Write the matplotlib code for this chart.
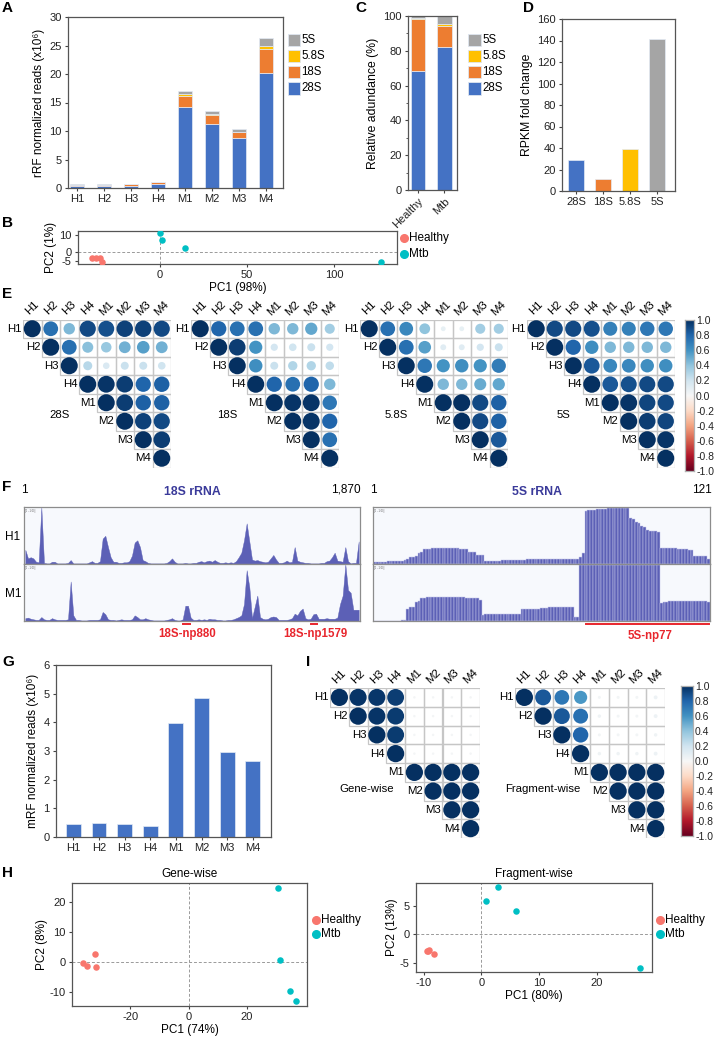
import numpy as np
import matplotlib
matplotlib.use('Agg')
import matplotlib.pyplot as plt
from matplotlib.patches import Rectangle, Circle
from matplotlib.lines import Line2D
from matplotlib.colors import Normalize
from matplotlib.ticker import MultipleLocator

plt.rcParams['font.family'] = ['Liberation Sans', 'DejaVu Sans']
plt.rcParams['font.size'] = 8
plt.rcParams['axes.unicode_minus'] = False
plt.rcParams['axes.edgecolor'] = '#555555'
plt.rcParams['axes.linewidth'] = 0.9
for a in ('xtick', 'ytick'):
    plt.rcParams[a + '.major.size'] = 2.5
    plt.rcParams[a + '.minor.size'] = 1.8
    plt.rcParams[a + '.major.width'] = 0.8
    plt.rcParams[a + '.major.pad'] = 2
    plt.rcParams[a + '.color'] = '#444444'
    plt.rcParams[a + '.labelcolor'] = '#222222'
    plt.rcParams[a + '.labelsize'] = 8

# ---------------- data ----------------
samples = ['H1', 'H2', 'H3', 'H4', 'M1', 'M2', 'M3', 'M4']
rrna = ['28S', '18S', '5.8S', '5S']
rrna_colors = ['#4472C4', '#ED7D31', '#FFC000', '#A5A5A5']

# A: rRF normalized reads (x10^6)
reads_28S = [0.40, 0.40, 0.42, 0.75, 14.2, 11.2, 8.8, 20.2]
reads_18S = [0.18, 0.18, 0.20, 0.22, 2.0, 1.6, 1.0, 4.2]
reads_58S = [0.02, 0.02, 0.02, 0.02, 0.3, 0.25, 0.1, 0.45]
reads_5S = [0.03, 0.03, 0.03, 0.03, 0.5, 0.45, 0.4, 1.55]

# C: relative abundance (%)
groups = ['Healthy', 'Mtb']
abund_28S = [68.5, 82.3]
abund_18S = [30.0, 12.1]
abund_58S = [0.6, 1.0]
abund_5S = [0.9, 4.6]

# D: RPKM fold change
fold_change = [29, 11, 39.5, 141]

# B: PCA of rRF
pca_b_healthy_x = [-38.7, -36.4, -34.5, -33.1]
pca_b_healthy_y = [-3.4, -3.4, -3.4, -5.7]
pca_b_mtb_x = [0.0, 1.1, 14.4, 127.0]
pca_b_mtb_y = [10.9, 7.0, 2.3, -5.4]

# E: correlation matrices (upper triangle, row by row from the diagonal)
corr_28S = [[1.00, 0.75, 0.45, 0.90, 0.88, 0.93, 0.93, 0.90],
            [1.00, 0.75, 0.42, 0.38, 0.48, 0.55, 0.48],
            [1.00, 0.28, 0.15, 0.22, 0.22, 0.20],
            [1.00, 0.98, 0.95, 0.80, 0.82],
            [1.00, 0.95, 0.82, 0.82],
            [1.00, 0.93, 0.90],
            [1.00, 0.95],
            [1.00]]
corr_18S = [[1.00, 0.80, 0.75, 0.75, 0.45, 0.45, 0.52, 0.35],
            [1.00, 0.95, 0.60, 0.18, 0.20, 0.22, 0.18],
            [1.00, 0.62, 0.22, 0.30, 0.30, 0.25],
            [1.00, 0.80, 0.75, 0.80, 0.45],
            [1.00, 0.98, 0.98, 0.72],
            [1.00, 0.98, 0.80],
            [1.00, 0.75],
            [1.00]]
corr_58S = [[1.00, 0.75, 0.65, 0.40, 0.08, 0.08, 0.35, 0.35],
            [1.00, 0.75, 0.55, 0.12, 0.12, 0.18, 0.22],
            [1.00, 0.72, 0.60, 0.62, 0.60, 0.70],
            [1.00, 0.45, 0.45, 0.50, 0.52],
            [1.00, 1.00, 0.90, 0.82],
            [1.00, 0.90, 0.82],
            [1.00, 0.85],
            [1.00]]
corr_5S = [[1.00, 0.90, 0.90, 0.88, 0.68, 0.68, 0.72, 0.72],
           [1.00, 0.80, 0.62, 0.45, 0.45, 0.45, 0.45],
           [1.00, 0.85, 0.65, 0.65, 0.62, 0.62],
           [1.00, 0.85, 0.88, 0.90, 0.90],
           [1.00, 0.98, 0.92, 0.90],
           [1.00, 0.95, 0.92],
           [1.00, 0.98],
           [1.00]]

# F: coverage tracks (relative depth)
cov_18S_H1 = [0.25, 0.10, 0.12, 0.10, 0.04, 0.03, 1.00, 0.02, 0.01, 0.01,
              0.04, 0.04, 0.01, 0.01, 0.01, 0.01, 0.02, 0.07, 0.01, 0.01,
              0.01, 0.01, 0.01, 0.01, 0.03, 0.05, 0.02, 0.02, 0.05, 0.45,
              0.50, 0.30, 0.12, 0.04, 0.04, 0.02, 0.02, 0.03, 0.03, 0.05,
              0.15, 0.38, 0.42, 0.30, 0.07, 0.05, 0.02, 0.01, 0.01, 0.01,
              0.01, 0.01, 0.01, 0.02, 0.05, 0.10, 0.04, 0.01, 0.01, 0.01,
              0.02, 0.01, 0.01, 0.02, 0.02, 0.04, 0.05, 0.03, 0.05, 0.06,
              0.04, 0.07, 0.04, 0.02, 0.02, 0.03, 0.02, 0.03, 0.02, 0.05,
              0.12, 0.20, 0.42, 0.72, 0.40, 0.08, 0.06, 0.07, 0.05, 0.04,
              0.03, 0.04, 0.10, 0.16, 0.08, 0.02, 0.02, 0.03, 0.06, 0.03,
              0.04, 0.30, 0.06, 0.04, 0.03, 0.02, 0.02, 0.01, 0.01, 0.01,
              0.01, 0.02, 0.02, 0.05, 0.06, 0.12, 0.20, 0.06, 0.05, 0.04,
              0.30, 0.05, 0.01, 0.02, 0.02, 0.40]
cov_18S_M1 = [0.05, 0.06, 0.04, 0.03, 0.02, 0.02, 0.07, 0.03, 0.02, 0.02,
              0.05, 0.03, 0.02, 0.02, 0.02, 0.02, 0.03, 0.70, 0.10, 0.02,
              0.02, 0.01, 0.01, 0.01, 0.02, 0.02, 0.02, 0.02, 0.03, 0.16,
              0.12, 0.03, 0.02, 0.02, 0.01, 0.02, 0.03, 0.02, 0.02, 0.02,
              0.03, 0.10, 0.07, 0.03, 0.03, 0.05, 0.03, 0.02, 0.01, 0.01,
              0.01, 0.01, 0.01, 0.02, 0.03, 0.05, 0.02, 0.01, 0.01, 0.03,
              0.27, 0.27, 0.06, 0.02, 0.02, 0.03, 0.02, 0.03, 0.02, 0.04,
              0.03, 0.03, 0.02, 0.02, 0.01, 0.01, 0.02, 0.02, 0.03, 0.05,
              0.07, 0.10, 0.30, 0.90, 0.60, 0.05, 0.25, 0.45, 0.07, 0.04,
              0.03, 0.04, 0.07, 0.08, 0.07, 0.02, 0.02, 0.02, 0.02, 0.03,
              0.05, 0.13, 0.10, 0.18, 0.22, 0.05, 0.03, 0.04, 0.12, 0.13,
              0.04, 0.04, 0.04, 0.05, 0.04, 0.04, 0.04, 0.06, 0.30, 0.45,
              1.00, 0.55, 0.50, 0.20, 0.20, 0.20]
cov_5S_H1 = [0.03, 0.03, 0.03, 0.04, 0.04,
             0.05, 0.05, 0.05, 0.05, 0.05, 0.06,
             0.07, 0.08,
             0.13, 0.13, 0.14,
             0.20, 0.21,
             0.26, 0.27, 0.27, 0.28, 0.28, 0.28, 0.29, 0.29, 0.29, 0.29, 0.28, 0.28, 0.28, 0.27, 0.27, 0.26,
             0.22, 0.22, 0.22,
             0.16, 0.16, 0.16,
             0.06, 0.06, 0.06, 0.06, 0.06, 0.06, 0.07, 0.07, 0.07, 0.07, 0.07, 0.07, 0.07, 0.07, 0.07,
             0.08, 0.08, 0.08, 0.08, 0.08, 0.08, 0.08, 0.08, 0.09, 0.09, 0.09, 0.09, 0.09, 0.09, 0.09,
             0.09, 0.09, 0.09, 0.09,
             0.13, 0.20,
             0.94, 0.95, 0.96, 0.96, 0.97, 0.97, 0.97, 0.98,
             1.00, 1.00, 1.00, 1.00, 1.00, 1.00, 1.00, 1.00,
             0.82, 0.80, 0.74, 0.72, 0.67, 0.65,
             0.60, 0.59, 0.58, 0.58, 0.57,
             0.29, 0.29, 0.28, 0.28, 0.28, 0.28, 0.27,
             0.27, 0.26, 0.26, 0.25, 0.25,
             0.15, 0.15, 0.15, 0.15, 0.14,
             0.08]
cov_5S_M1 = [0.00, 0.00, 0.00, 0.00, 0.00, 0.00, 0.00, 0.00, 0.00, 0.00,
             0.01, 0.01,
             0.22, 0.24, 0.25,
             0.34, 0.36,
             0.40, 0.41, 0.42, 0.42, 0.42, 0.42, 0.42, 0.42, 0.42, 0.42, 0.42,
             0.42, 0.42, 0.42, 0.42, 0.42, 0.41, 0.41, 0.40, 0.40, 0.40,
             0.38,
             0.10, 0.12, 0.12, 0.13, 0.13, 0.13, 0.13, 0.13, 0.13, 0.13, 0.13, 0.13, 0.13, 0.13,
             0.22, 0.22, 0.22, 0.22, 0.22, 0.22, 0.22, 0.23, 0.23, 0.23,
             0.24, 0.25, 0.25, 0.25, 0.25, 0.24, 0.24, 0.24, 0.24,
             0.07, 0.07,
             0.99, 0.99, 0.99, 0.99, 0.99, 0.99, 0.99, 0.99, 0.99, 0.99,
             0.99, 0.99, 0.99, 0.99, 0.99, 0.99, 0.99, 0.99, 0.99, 0.99,
             0.99, 0.99, 0.99, 0.99, 0.99, 0.99, 0.99, 0.99, 0.99,
             0.32, 0.33, 0.34,
             0.36, 0.36, 0.36, 0.36, 0.36, 0.36, 0.36, 0.36, 0.36, 0.36,
             0.36, 0.36, 0.36, 0.36, 0.33]

# G: mRF normalized reads (x10^6)
mrf_reads = [0.46, 0.48, 0.46, 0.38, 3.99, 4.84, 2.97, 2.66]

# I: correlation matrices
corr_gene = [[1.00, 0.98, 0.97, 0.95, 0.02, 0.02, 0.02, 0.02],
             [1.00, 0.98, 0.96, 0.02, 0.02, 0.02, 0.02],
             [1.00, 0.96, 0.02, 0.02, 0.02, 0.02],
             [1.00, 0.02, 0.02, 0.02, 0.02],
             [1.00, 1.00, 1.00, 1.00],
             [1.00, 1.00, 1.00],
             [1.00, 1.00],
             [1.00]]
corr_fragment = [[1.00, 0.85, 0.72, 0.58, 0.03, 0.03, 0.03, 0.05],
                 [1.00, 0.85, 0.75, 0.04, 0.03, 0.03, 0.05],
                 [1.00, 0.80, 0.03, 0.03, 0.03, 0.04],
                 [1.00, 0.04, 0.04, 0.04, 0.05],
                 [1.00, 1.00, 1.00, 1.00],
                 [1.00, 1.00, 1.00],
                 [1.00, 1.00],
                 [1.00]]

# H: PCA
gene_healthy_x = [-36.3, -34.6, -31.9, -31.6]
gene_healthy_y = [-0.5, -1.3, 2.5, -1.7]
gene_mtb_x = [30.6, 31.2, 34.6, 36.9]
gene_mtb_y = [24.7, 0.6, -9.8, -13.0]
frag_healthy_x = [-9.4, -9.0, -8.2, -9.3]
frag_healthy_y = [-2.9, -2.75, -3.5, -3.0]
frag_mtb_x = [0.8, 2.9, 6.0, 27.5]
frag_mtb_y = [5.9, 8.3, 4.1, -5.9]

c_healthy = '#F8766D'
c_mtb = '#00BFC4'
c_track = '#5C60B6'

# ---------------- figure ----------------
W, H = 719, 1037
fig = plt.figure(figsize=(W / 100, H / 100), dpi=100)


def box(l, t, r, b):
    return [l / W, 1 - b / H, (r - l) / W, (b - t) / H]


def put(x, y, s, **kw):
    return fig.text(x / W, 1 - y / H, s, **kw)


def letter(x, y, s):
    put(x, y, s, fontsize=11, fontweight='bold', ha='left', va='center')


def legend_squares(x, y, labels, colors, step=16.2, size=12.5):
    for k, (lab, col) in enumerate(zip(labels, colors)):
        yy = y + k * step
        fig.add_artist(Rectangle((x / W, 1 - (yy + size) / H), size / W, size / H,
                                 transform=fig.transFigure, fc=col, ec='#dfe6f0', lw=0.6))
        put(x + size + 1.5, yy + size / 2, lab, fontsize=8.3, va='center', ha='left')


def legend_dots(x, y, labels, colors, step=15):
    for k, (lab, col) in enumerate(zip(labels, colors)):
        yy = y + k * step
        fig.add_artist(Line2D([x / W], [1 - yy / H], marker='o', ms=5.5, color=col,
                              ls='none', transform=fig.transFigure))
        put(x + 5, yy, lab, fontsize=8.5, va='center', ha='left')


cmap = plt.get_cmap('RdBu')
norm = Normalize(-1, 1)


def corr_plot(rect, mat, label, label_xy, ha='center'):
    ax = fig.add_axes(rect)
    n = len(samples)
    ax.set_xlim(0, n)
    ax.set_ylim(n, 0)
    ax.axis('off')
    for i in range(n):
        for k, r in enumerate(mat[i]):
            j = i + k
            ax.add_patch(Rectangle((j, i), 1, 1, fill=False, ec='#c6c6c6', lw=0.9))
            ax.add_patch(Circle((j + 0.5, i + 0.5), 0.46 * np.sqrt(abs(r)),
                                fc=cmap(norm(r)), ec='none'))
        ax.text(i - 0.07, i + 0.5, samples[i], ha='right', va='center', fontsize=8.2)
        ax.text(i + 0.5, -0.62, samples[i], ha='center', va='center', rotation=45, fontsize=8.2)
    ax.text(label_xy[0], label_xy[1], label, ha=ha, va='center', fontsize=8.2)
    return ax


def colorbar(rect):
    cax = fig.add_axes(rect)
    grad = np.linspace(1, -1, 256).reshape(-1, 1)
    cax.imshow(grad, aspect='auto', cmap='RdBu', vmin=-1, vmax=1, extent=[0, 1, -1, 1])
    cax.set_xticks([])
    cax.yaxis.tick_right()
    ticks = [-1.0, -0.8, -0.6, -0.4, -0.2, 0.0, 0.2, 0.4, 0.6, 0.8, 1.0]
    cax.set_yticks(ticks, ['%.1f' % t if t != 0 else '0.0' for t in ticks])
    cax.tick_params(axis='y', length=0, pad=1.5, labelsize=7.5)
    for s in cax.spines.values():
        s.set_color('#b0b0b0')
    return cax


def pca_plot(rect, hx, hy, mx, my, xlim, ylim, xticks, yticks, xlabel, ylabel, title=None):
    ax = fig.add_axes(rect)
    ax.axhline(0, color='#9a9a9a', lw=0.7, ls=(0, (3, 2)), zorder=1)
    ax.axvline(0, color='#9a9a9a', lw=0.7, ls=(0, (3, 2)), zorder=1)
    ax.scatter(hx, hy, s=22, color=c_healthy, zorder=3, lw=0)
    ax.scatter(mx, my, s=22, color=c_mtb, zorder=3, lw=0)
    ax.set_xlim(*xlim)
    ax.set_ylim(*ylim)
    ax.set_xticks(xticks)
    ax.set_yticks(yticks)
    ax.set_xlabel(xlabel, fontsize=8.5, labelpad=1.5)
    ax.set_ylabel(ylabel, fontsize=8.5, labelpad=1.5)
    if title:
        ax.set_title(title, fontsize=8.5, pad=4)
    return ax


# ---- A ----
letter(2, 8, 'A')
axA = fig.add_axes(box(68, 17, 283, 188))
xa = np.arange(len(samples))
bottom = np.zeros(len(samples))
for vals, col in zip([reads_28S, reads_18S, reads_58S, reads_5S], rrna_colors):
    axA.bar(xa, vals, bottom=bottom, width=0.52, color=col, edgecolor='#e4ebf5', linewidth=0.5)
    bottom += np.array(vals)
axA.set_xlim(-0.35, 7.65)
axA.set_ylim(0, 30)
axA.set_yticks(range(0, 31, 5))
axA.set_xticks(xa, samples)
axA.set_ylabel('rRF normalized reads (x10⁶)', fontsize=8.5, labelpad=3)
legend_squares(287.5, 33.5, rrna[::-1], rrna_colors[::-1])

# ---- C ----
put(355, 8, 'C', fontsize=11, fontweight='bold', va='center')
axC = fig.add_axes(box(408, 16, 457, 190))
xc = np.arange(len(groups))
bottom = np.zeros(len(groups))
for vals, col in zip([abund_28S, abund_18S, abund_58S, abund_5S], rrna_colors):
    axC.bar(xc, vals, bottom=bottom, width=0.54, color=col, edgecolor='#e4ebf5', linewidth=0.5)
    bottom += np.array(vals)
axC.set_xlim(-0.37, 1.47)
axC.set_ylim(0, 100)
axC.set_yticks(range(0, 101, 20))
axC.yaxis.set_minor_locator(MultipleLocator(10))
axC.set_xticks(xc, groups, rotation=45, ha='right', rotation_mode='anchor')
axC.set_ylabel('Relative adundance (%)', fontsize=8.8, labelpad=3)
legend_squares(468.3, 33.5, rrna[::-1], rrna_colors[::-1])

# ---- D ----
letter(523, 8, 'D')
axD = fig.add_axes(box(562, 19, 675, 191))
xd = np.arange(len(rrna))
axD.bar(xd, fold_change, width=0.58, color=rrna_colors, edgecolor='#e4ebf5', linewidth=0.5)
axD.set_xlim(-0.52, 3.67)
axD.set_ylim(0, 160)
axD.set_yticks(range(0, 161, 20))
axD.set_xticks(xd, rrna)
axD.set_ylabel('RPKM fold change', fontsize=8.8, labelpad=3)

# ---- B ----
letter(2, 223, 'B')
pca_plot(box(78, 231, 397, 264), pca_b_healthy_x, pca_b_healthy_y, pca_b_mtb_x, pca_b_mtb_y,
         (-47, 136), (-6.7, 12.2), [0, 50, 100], [-5, 0, 10], 'PC1 (98%)', 'PC2 (1%)')
legend_dots(404, 238, ['Healthy', 'Mtb'], [c_healthy, c_mtb], step=16)

# ---- E ----
letter(2, 294, 'E')
cell = 148
for left, mat, lab in zip([23, 191, 360, 527], [corr_28S, corr_18S, corr_58S, corr_5S], rrna):
    corr_plot(box(left, 319.5, left + cell, 319.5 + cell), mat, lab, (1.95, 5.15))
colorbar(box(685, 320, 694, 471))

# ---- F ----
letter(2, 487, 'F')


def track(rect, vals, striped):
    ax = fig.add_axes(rect)
    x = np.arange(1, len(vals) + 1)
    if striped:
        ax.bar(x, vals, width=1.0, color=c_track, edgecolor='#c4c7ea', linewidth=0.35)
    else:
        ax.fill_between(x, vals, color=c_track, linewidth=0.3, edgecolor=c_track)
    ax.set_xlim(0.5, len(vals) + 0.5)
    ax.set_ylim(0, 1.01)
    ax.set_facecolor('#f7f9fd')
    ax.set_xticks([])
    ax.set_yticks([])
    for s in ax.spines.values():
        s.set_color('#8c8c8c')
        s.set_linewidth(0.9)
    ax.text(0.004, 0.97, '[0 - 1.00]', transform=ax.transAxes, fontsize=1.8,
            color='#555555', va='top', ha='left')
    return ax


track(box(24, 507, 360, 564), cov_18S_H1, False)
track(box(24, 564, 360, 621), cov_18S_M1, False)
track(box(373, 507, 710, 564), cov_5S_H1, True)
track(box(373, 564, 710, 621), cov_5S_M1, True)
put(13, 537, 'H1', fontsize=8.5, ha='center', va='center')
put(13, 594, 'M1', fontsize=8.5, ha='center', va='center')
put(24, 490, '1', fontsize=8.5, ha='center', va='center')
put(361, 490, '1,870', fontsize=8.5, ha='right', va='center')
put(373, 490, '1', fontsize=8.5, ha='center', va='center')
put(712, 490, '121', fontsize=8.5, ha='right', va='center')
put(192, 492, '18S rRNA', fontsize=8.8, fontweight='bold', color='#3a3a9a', ha='center', va='center')
put(537, 492, '5S rRNA', fontsize=8.8, fontweight='bold', color='#3a3a9a', ha='center', va='center')
red = '#E8262D'
for x0, x1 in [(183, 190), (311, 317), (586, 709)]:
    fig.add_artist(Line2D([x0 / W, x1 / W], [1 - 624 / H, 1 - 624 / H], color=red, lw=1.4,
                          transform=fig.transFigure))
put(187, 634, '18S-np880', fontsize=8.3, fontweight='bold', color=red, ha='center', va='center')
put(315, 634, '18S-np1579', fontsize=8.3, fontweight='bold', color=red, ha='center', va='center')
put(650, 636, '5S-np77', fontsize=8.3, fontweight='bold', color=red, ha='center', va='center')

# ---- G ----
letter(2, 662, 'G')
axG = fig.add_axes(box(56, 665, 271, 837))
xg = np.arange(len(samples))
axG.bar(xg, mrf_reads, width=0.58, color=rrna_colors[0], edgecolor='#e4ebf5', linewidth=0.5)
axG.set_xlim(-0.68, 7.71)
axG.set_ylim(0, 6)
axG.set_yticks(range(0, 7))
axG.set_xticks(xg, samples)
axG.set_ylabel('mRF normalized reads (x10⁶)', fontsize=8.5, labelpad=3)

# ---- I ----
letter(306, 662, 'I')
corr_plot(box(330, 688, 480, 838), corr_gene, 'Gene-wise', (3.4, 5.4), ha='right')
corr_plot(box(515, 688, 665, 838), corr_fragment, 'Fragment-wise', (3.5, 5.4), ha='right')
colorbar(box(681, 686, 693, 836))

# ---- H ----
letter(2, 873, 'H')
pca_plot(box(72, 883, 307, 1006), gene_healthy_x, gene_healthy_y, gene_mtb_x, gene_mtb_y,
         (-39.9, 40.5), (-14.8, 26.3), [-20, 0, 20], [-10, 0, 10, 20],
         'PC1 (74%)', 'PC2 (8%)', title='Gene-wise')
legend_dots(316, 919.5, ['Healthy', 'Mtb'], [c_healthy, c_mtb], step=14.5)
pca_plot(box(416, 883, 652, 972), frag_healthy_x, frag_healthy_y, frag_mtb_x, frag_mtb_y,
         (-11.3, 29.5), (-6.64, 9.0), [-10, 0, 10, 20], [-5, 0, 5],
         'PC1 (80%)', 'PC2 (13%)', title='Fragment-wise')
legend_dots(660, 919.5, ['Healthy', 'Mtb'], [c_healthy, c_mtb], step=14.5)

fig.savefig('out.png', dpi=100)
